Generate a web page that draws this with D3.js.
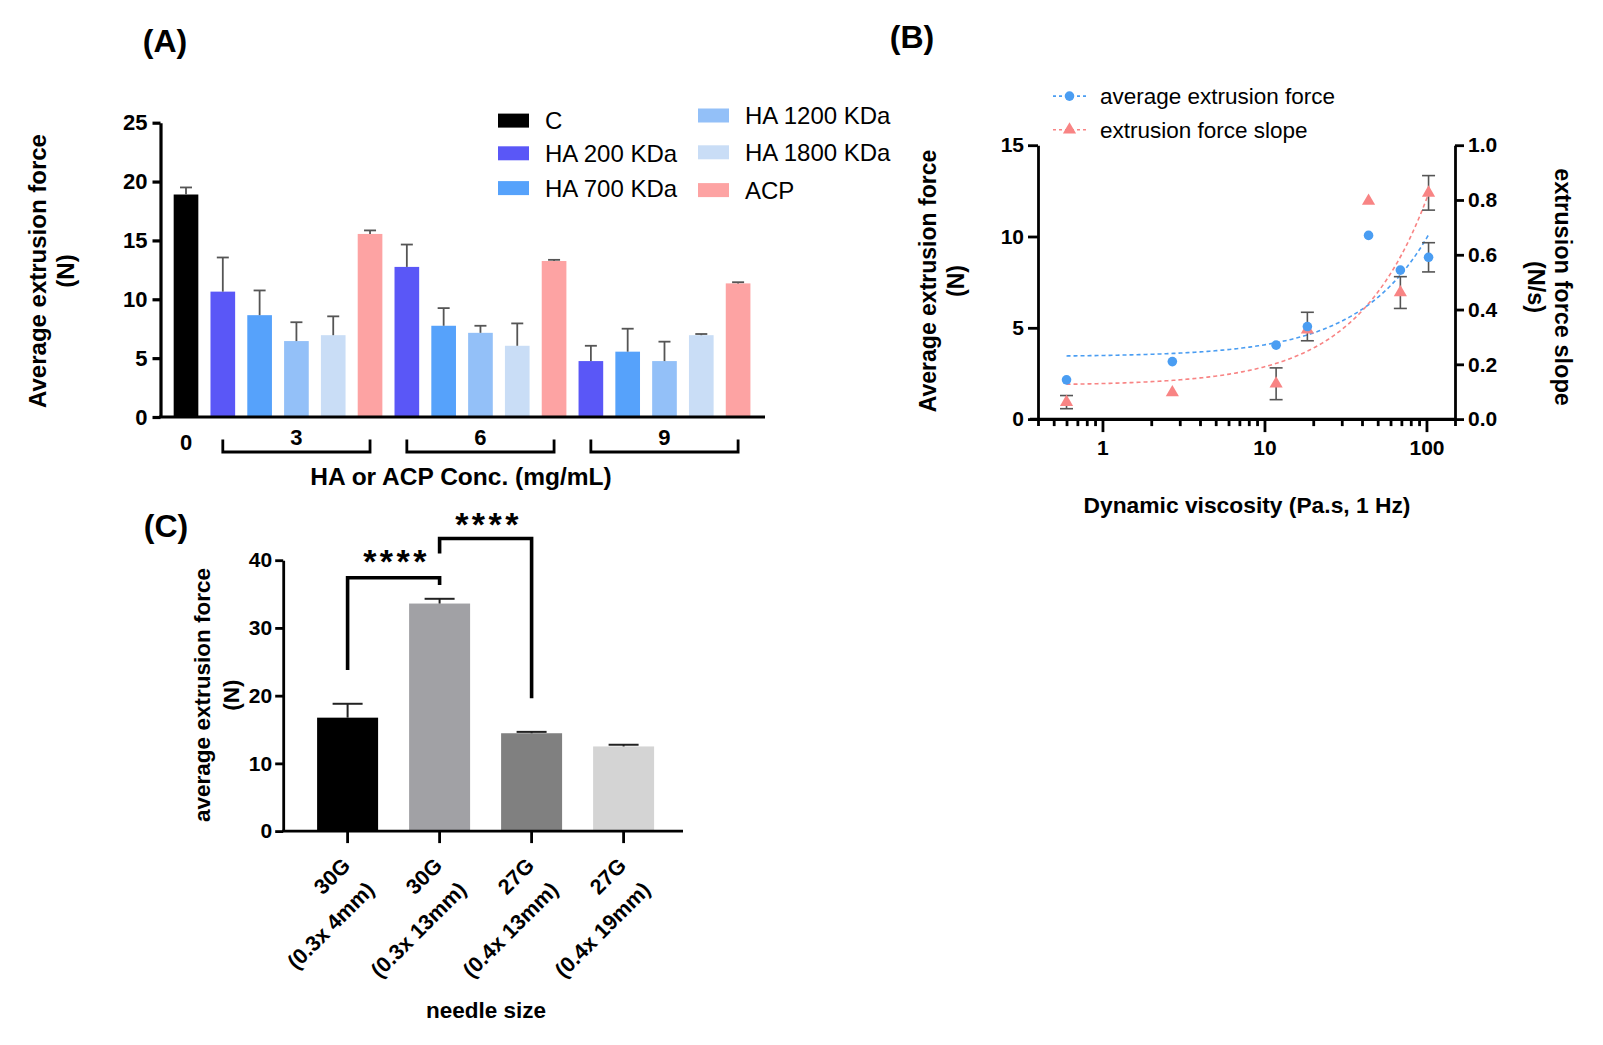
<!DOCTYPE html>
<html>
<head>
<meta charset="utf-8">
<script src="https://cdn.jsdelivr.net/npm/d3@7"></script>
<style>
body { margin: 0; background: #fff; }
svg text { font-family: 'Liberation Sans', Arial, sans-serif; fill: #000; }
</style>
</head>
<body>
<svg id="chart" width="1603" height="1045"></svg>
<script>
// ---- panel A data
var seriesNames = ['C', 'HA 200 KDa', 'HA 700 KDa', 'HA 1200 KDa', 'HA 1800 KDa', 'ACP'];
var seriesColors = ['#000000', '#5a57f7', '#56a2fb', '#93c0f8', '#c9ddf6', '#fda3a3'];
var concGroups = ['0', '3', '6', '9'];
var barConc = ['0', '3', '3', '3', '3', '3', '6', '6', '6', '6', '6', '9', '9', '9', '9', '9'];
var barSeries = [0, 1, 2, 3, 4, 5, 1, 2, 3, 4, 5, 1, 2, 3, 4, 5];
var barMeans = [18.9, 10.65, 8.65, 6.45, 6.95, 15.55, 12.75, 7.75, 7.15, 6.05, 13.25, 4.75, 5.55, 4.75, 6.95, 11.35];
var barSD = [0.6, 2.9, 2.1, 1.6, 1.6, 0.3, 1.9, 1.5, 0.6, 1.9, 0.1, 1.3, 1.95, 1.65, 0.1, 0.1];
var yTicksA = [0, 5, 10, 15, 20, 25];

// ---- panel B data
var viscosity = [0.6, 2.7, 11.8, 18.4, 43.9, 69, 103];
var forceMean = [2.15, 3.15, 4.05, 5.07, 10.06, 8.16, 8.86];
var forceSD = [0, 0, 0, 0.78, 0, 0, 0.8];
var slopeMean = [0.062, 0.097, 0.129, 0.326, 0.796, 0.462, 0.826];
var slopeSD = [0.024, 0, 0.058, 0, 0, 0.058, 0.063];
var forceFit = [3.42, 0.0648];   // intercept, slope
var slopeFit = [0.123, 0.0068];
var xTicksB = [1, 10, 100];
var yTicksB = [0, 5, 10, 15];
var yTicksB2 = [0, 0.2, 0.4, 0.6, 0.8, 1.0];

// ---- panel C data
var needleGauge = ['30G', '30G', '27G', '27G'];
var needleDims = ['(0.3x 4mm)', '(0.3x 13mm)', '(0.4x 13mm)', '(0.4x 19mm)'];
var needleMeans = [16.75, 33.6, 14.45, 12.5];
var needleSD = [2.05, 0.7, 0.2, 0.25];
var needleColors = ['#000000', '#a1a1a5', '#808080', '#d4d4d4'];
var yTicksC = [0, 10, 20, 30, 40];
var sigPairs = [[0, 1, '****'], [1, 2, '****']];

var bold = "'Liberation Sans', Arial, sans-serif";
var titleFont = "'Open Sans', 'DejaVu Sans', sans-serif";
var svg = d3.select('#chart');
svg.append('rect').attr('width', 1603).attr('height', 1045).attr('fill', '#fff');

function styleAxis(g, w, fs) {
	g.selectAll('path.domain').attr('stroke', '#000').attr('stroke-width', w);
	g.selectAll('.tick line').attr('stroke', '#000').attr('stroke-width', w);
	g.selectAll('.tick text').attr('font-size', fs).attr('font-weight', 'bold')
		.attr('font-family', bold).attr('fill', '#000');
}

function label(g, txt, x, y, fs, opts) {
	opts = opts || {};
	var t = g.append('text').attr('x', x).attr('y', y).attr('dy', opts.dy || '0.35em')
		.attr('font-size', fs).attr('text-anchor', opts.anchor || 'middle')
		.attr('font-weight', opts.weight || 'bold').text(txt);
	if (opts.family) t.attr('font-family', opts.family);
	if (opts.rot) t.attr('transform', `rotate(${opts.rot},${x},${y})`);
	return t;
}

// ================= panel A
var gA = svg.append('g');
var yA = d3.scaleLinear().domain([0, 25]).range([417, 122.7]);
var xA = d3.scaleBand().domain(d3.range(barMeans.length)).range([167.6, 756.5])
	.paddingInner(0.33).paddingOuter(0.165);

gA.append('g').selectAll('rect').data(barMeans).enter().append('rect')
	.attr('x', (d, i) => xA(i))
	.attr('y', d => yA(d))
	.attr('width', xA.bandwidth())
	.attr('height', d => yA(0) - yA(d))
	.attr('fill', (d, i) => seriesColors[barSeries[i]]);

var errA = gA.append('g').attr('stroke', '#555').attr('stroke-width', 1.8);
barMeans.forEach(function (d, i) {
	var cx = xA(i) + xA.bandwidth() / 2;
	errA.append('line').attr('x1', cx).attr('x2', cx).attr('y1', yA(d)).attr('y2', yA(d + barSD[i]));
	errA.append('line').attr('x1', cx - 6).attr('x2', cx + 6).attr('y1', yA(d + barSD[i])).attr('y2', yA(d + barSD[i]));
});

var axA = gA.append('g').attr('transform', 'translate(160.5,0)')
	.call(d3.axisLeft(yA).tickValues(yTicksA).tickSize(8).tickSizeOuter(0).tickPadding(5));
styleAxis(axA, 3.2, 22);
gA.append('line').attr('x1', 159).attr('x2', 765).attr('y1', yA(0)).attr('y2', yA(0))
	.attr('stroke', '#000').attr('stroke-width', 3.2);

// group labels + brackets
concGroups.forEach(function (c) {
	var idx = d3.range(barConc.length).filter(i => barConc[i] === c);
	var x0 = xA(idx[0]) + xA.bandwidth() / 2, x1 = xA(idx[idx.length - 1]) + xA.bandwidth() / 2;
	if (idx.length === 1) {
		label(gA, c, x0, 442, 22);
	} else {
		label(gA, c, (x0 + x1) / 2, 437.5, 22);
		gA.append('path').attr('d', `M${x0},439.5V452H${x1}V439.5`)
			.attr('fill', 'none').attr('stroke', '#000').attr('stroke-width', 2.8);
	}
});
label(gA, 'HA or ACP Conc. (mg/mL)', 461, 476.5, 24.5);
label(gA, 'Average extrusion force', 38, 271, 24, { rot: -90 });
label(gA, '(N)', 66, 271, 24, { rot: -90 });
label(gA, '(A)', 165, 41, 32, { family: titleFont });

// legend A
var legPos = [[498, 120.6], [498, 153.3], [498, 188.1], [698, 115.5], [698, 152.3], [698, 190.1]];
seriesNames.forEach(function (n, i) {
	gA.append('rect').attr('x', legPos[i][0]).attr('y', legPos[i][1] - 7).attr('width', 31).attr('height', 14)
		.attr('fill', seriesColors[i]);
	label(gA, n, legPos[i][0] + 47, legPos[i][1], 24, { anchor: 'start', weight: 'normal' });
});

// ================= panel B
var gB = svg.append('g');
var xB = d3.scaleLog().domain([0.4, 150]).range([1038, 1455]);
var yB = d3.scaleLinear().domain([0, 15]).range([419.1, 145.2]);
var yB2 = d3.scaleLinear().domain([0, 1]).range([419.1, 145.2]);
var blue = '#4a9df2', red = '#f88484';

var minorB = xB.ticks().filter(t => t > 0.4 && xTicksB.indexOf(t) < 0);
var axBm = gB.append('g').attr('transform', 'translate(0,419.1)')
	.call(d3.axisBottom(xB).tickValues(minorB).tickSize(7).tickFormat(''));
styleAxis(axBm, 2.8, 21);
var axBx = gB.append('g').attr('transform', 'translate(0,419.1)')
	.call(d3.axisBottom(xB).tickValues(xTicksB).tickSize(13).tickSizeOuter(0).tickPadding(8).tickFormat(d3.format('d')));
styleAxis(axBx, 2.8, 21);
axBx.select('path.domain').attr('d', 'M1030,0H1455');
var axBl = gB.append('g').attr('transform', 'translate(1038,0)')
	.call(d3.axisLeft(yB).tickValues(yTicksB).tickSize(10).tickSizeOuter(0).tickPadding(4));
styleAxis(axBl, 2.8, 21);
var axBr = gB.append('g').attr('transform', 'translate(1455,0)')
	.call(d3.axisRight(yB2).tickValues(yTicksB2).tickSize(9).tickSizeOuter(0).tickPadding(4).tickFormat(d3.format('.1f')));
styleAxis(axBr, 2.8, 21);

// fit lines
var fitX = d3.range(0, 201).map(k => Math.pow(10, Math.log10(0.6) + k / 200 * (Math.log10(103) - Math.log10(0.6))));
gB.append('path').datum(fitX)
	.attr('d', d3.line().x(d => xB(d)).y(d => yB(forceFit[0] + forceFit[1] * d)))
	.attr('fill', 'none').attr('stroke', blue).attr('stroke-width', 1.6).attr('stroke-dasharray', '4,3');
gB.append('path').datum(fitX)
	.attr('d', d3.line().x(d => xB(d)).y(d => yB2(slopeFit[0] + slopeFit[1] * d)))
	.attr('fill', 'none').attr('stroke', red).attr('stroke-width', 1.6).attr('stroke-dasharray', '4,3');

// error bars
var errB = gB.append('g').attr('stroke', '#555').attr('stroke-width', 1.6);
function errBar(x, yTop, yBot) {
	errB.append('line').attr('x1', x).attr('x2', x).attr('y1', yTop).attr('y2', yBot);
	errB.append('line').attr('x1', x - 6.5).attr('x2', x + 6.5).attr('y1', yTop).attr('y2', yTop);
	errB.append('line').attr('x1', x - 6.5).attr('x2', x + 6.5).attr('y1', yBot).attr('y2', yBot);
}
viscosity.forEach(function (v, i) {
	if (forceSD[i] > 0) errBar(xB(v), yB(forceMean[i] + forceSD[i]), yB(forceMean[i] - forceSD[i]));
	if (slopeSD[i] > 0) errBar(xB(v), yB2(slopeMean[i] + slopeSD[i]), yB2(slopeMean[i] - slopeSD[i]));
});

var tri = d3.symbol().type(d3.symbolTriangle).size(75);
gB.append('g').selectAll('path').data(slopeMean).enter().append('path')
	.attr('d', tri).attr('fill', red)
	.attr('transform', (d, i) => `translate(${xB(viscosity[i])},${yB2(d)})`);
gB.append('g').selectAll('circle').data(forceMean).enter().append('circle')
	.attr('cx', (d, i) => xB(viscosity[i])).attr('cy', d => yB(d)).attr('r', 4.8).attr('fill', blue);

// legend B
[['average extrusion force', blue, 'c', 96.1], ['extrusion force slope', red, 't', 129.8]].forEach(function (l) {
	gB.append('line').attr('x1', 1053).attr('x2', 1086).attr('y1', l[3]).attr('y2', l[3])
		.attr('stroke', l[1]).attr('stroke-width', 1.6).attr('stroke-dasharray', '3,3');
	if (l[2] === 'c') gB.append('circle').attr('cx', 1069.5).attr('cy', l[3]).attr('r', 4.8).attr('fill', l[1]);
	else gB.append('path').attr('d', tri).attr('fill', l[1]).attr('transform', `translate(1069.5,${l[3]})`);
	label(gB, l[0], 1100, l[3], 22.5, { anchor: 'start', weight: 'normal' });
});

label(gB, 'Dynamic viscosity (Pa.s, 1 Hz)', 1247, 505, 22.8);
label(gB, 'Average extrusion force', 928, 281, 23, { rot: -90 });
label(gB, '(N)', 956, 281, 23, { rot: -90 });
label(gB, 'extrusion force slope', 1563, 287, 23.5, { rot: 90 });
label(gB, '(N/s)', 1536, 287, 23.5, { rot: 90 });
label(gB, '(B)', 912, 37, 32, { family: titleFont });

// ================= panel C
var gC = svg.append('g');
var yC = d3.scaleLinear().domain([0, 40]).range([831.1, 560.2]);
var xC = d3.scaleBand().domain(d3.range(needleMeans.length)).range([301.6, 669.6])
	.paddingInner(0.337).paddingOuter(0.1685);
var cxC = i => xC(i) + xC.bandwidth() / 2;

gC.append('g').selectAll('rect').data(needleMeans).enter().append('rect')
	.attr('x', (d, i) => xC(i)).attr('y', d => yC(d))
	.attr('width', xC.bandwidth()).attr('height', d => yC(0) - yC(d))
	.attr('fill', (d, i) => needleColors[i]);

var errC = gC.append('g').attr('stroke', '#222').attr('stroke-width', 2);
needleMeans.forEach(function (d, i) {
	errC.append('line').attr('x1', cxC(i)).attr('x2', cxC(i)).attr('y1', yC(d)).attr('y2', yC(d + needleSD[i]));
	errC.append('line').attr('x1', cxC(i) - 15).attr('x2', cxC(i) + 15)
		.attr('y1', yC(d + needleSD[i])).attr('y2', yC(d + needleSD[i]));
});

var axC = gC.append('g').attr('transform', 'translate(283.2,0)')
	.call(d3.axisLeft(yC).tickValues(yTicksC).tickSize(8).tickSizeOuter(0).tickPadding(3));
styleAxis(axC, 2.8, 21);
var axCx = gC.append('g').attr('transform', 'translate(0,831.1)')
	.call(d3.axisBottom(xC).tickSize(12).tickSizeOuter(0).tickFormat(''));
styleAxis(axCx, 2.8, 21);
axCx.select('path.domain').attr('d', 'M282,0H683');

needleGauge.forEach(function (g, i) {
	var x = cxC(i) + 4, y = 867;
	var t = gC.append('text').attr('transform', `translate(${x},${y}) rotate(-45)`)
		.attr('text-anchor', 'end').attr('font-size', 21.5).attr('font-weight', 'bold');
	t.append('tspan').attr('x', 0).attr('y', 0).text(g);
	t.append('tspan').attr('x', 0).attr('y', 34).text(needleDims[i]);
});

// significance brackets
var sigLevels = [[37.4, 23.8, 36.35, 40.6], [43.2, 41.0, 19.6, 46.1]];
sigPairs.forEach(function (p, k) {
	var lv = sigLevels[k], xa = cxC(p[0]), xb = cxC(p[1]);
	gC.append('path').attr('d', `M${xa},${yC(lv[1])}V${yC(lv[0])}H${xb}V${yC(lv[2])}`)
		.attr('fill', 'none').attr('stroke', '#000').attr('stroke-width', 3.6);
	label(gC, p[2], (xa + xb) / 2 + 3, yC(lv[3]), 34, { dy: '0.5em' }).attr('letter-spacing', 3.5);
});

label(gC, 'needle size', 486, 1010, 22.5, { family: titleFont });
label(gC, 'average extrusion force', 202, 695, 22.5, { rot: -90 });
label(gC, '(N)', 231, 695, 22.5, { rot: -90 });
label(gC, '(C)', 166, 526, 32, { family: titleFont });
</script>
</body>
</html>
